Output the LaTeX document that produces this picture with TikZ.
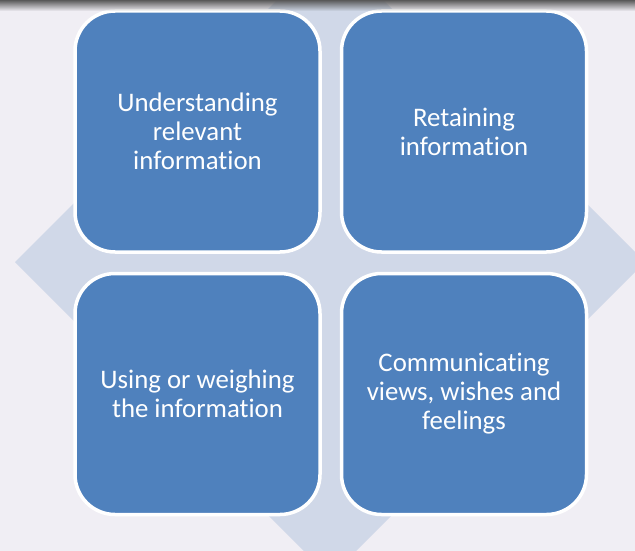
\documentclass[tikz,border=0pt]{standalone}
\usepackage{fontspec}
\setmainfont{Carlito}[RawFeature=-liga]
\usetikzlibrary{fadings}
\definecolor{bgc}{RGB}{240,238,244}
\definecolor{dia}{RGB}{208,216,232}
\definecolor{boxc}{RGB}{79,129,189}
\tikzfading[name=topfade, top color=transparent!0, bottom color=transparent!100]
\tikzset{
  quad/.style={draw=white, line width=3.5pt, fill=boxc, rounded corners=40pt,
    minimum width=245pt, minimum height=241pt, inner sep=0pt,
    text=white, align=center, font=\fontsize{26.8pt}{29pt}\selectfont}
}
\begin{document}
\begin{tikzpicture}[x=1pt,y=-1pt]
\useasboundingbox (0,0) rectangle (635,551);
\fill[bgc] (0,0) rectangle (635,551);
\begin{scope}
\clip (0,0) rectangle (635,551);
\fill[dia] (15,262) -- (330,-53) -- (645,262) -- (330,577) -- cycle;
\end{scope}
\node[quad] (tl) at (197.5,131.5) {Understanding\\relevant\\information};
\node[quad] (tr) at (464,131.5) {Retaining\\information};
\node[quad] (bl) at (197.5,394) {Using or weighing\\the information};
\node[quad] (br) at (464,394) {Communicating\\views, wishes and\\feelings};
\fill[black!65, path fading=topfade] (0,0) rectangle (635,11);
\end{tikzpicture}
\end{document}
